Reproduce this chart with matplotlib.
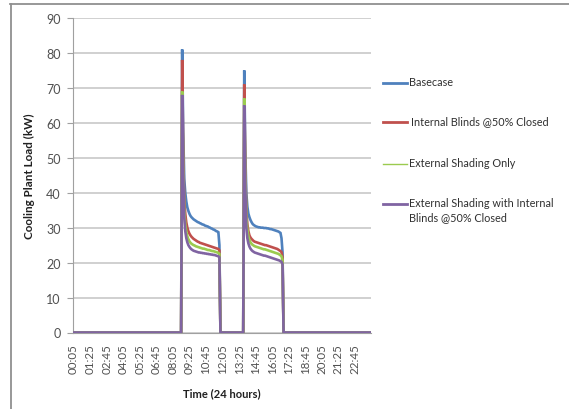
import numpy as np
import matplotlib
matplotlib.use("Agg")
import matplotlib.pyplot as plt
from matplotlib.lines import Line2D

plt.rcParams['font.family'] = ['Lato', 'DejaVu Sans']

# 5-minute intervals over 24 hours (00:05 ... 24:00)
n_steps = 288
tick_labels = ["00:05", "01:25", "02:45", "04:05", "05:25", "06:45", "08:05",
               "09:25", "10:45", "12:05", "13:25", "14:45", "16:05", "17:25",
               "18:45", "20:05", "21:25", "22:45"]

# Morning occupied block starts at step 105 (08:50), afternoon block at step 165 (13:50)
am_start = 105
pm_start = 165

basecase_am = [81, 58, 44, 40, 37.5, 35.8, 34.8, 34.0, 33.4, 33.0, 32.7, 32.4, 32.2,
               32.0, 31.8, 31.6, 31.5, 31.3, 31.2, 31.0, 30.9, 30.8, 30.6, 30.5, 30.4,
               30.3, 30.1, 30.0, 29.8, 29.7, 29.5, 29.4, 29.2, 29.0, 28.9, 28.7, 25.0]
blinds_am = [78, 52, 38, 34, 31.5, 30.0, 29.0, 28.3, 27.8, 27.4, 27.1, 26.8, 26.6,
             26.4, 26.2, 26.0, 25.9, 25.7, 25.6, 25.5, 25.4, 25.3, 25.2, 25.1, 25.0,
             24.9, 24.8, 24.7, 24.6, 24.5, 24.4, 24.3, 24.2, 24.1, 24.0, 23.9, 23.5]
shading_am = [69, 48, 35, 31, 28.8, 27.5, 26.7, 26.1, 25.7, 25.4, 25.2, 25.0, 24.9,
              24.7, 24.6, 24.5, 24.4, 24.3, 24.2, 24.1, 24.0, 24.0, 23.9, 23.8, 23.7,
              23.6, 23.6, 23.5, 23.4, 23.3, 23.3, 23.2, 23.1, 23.0, 22.9, 22.8, 22.5]
combined_am = [68, 46, 33, 29, 27, 25.8, 25.0, 24.5, 24.1, 23.8, 23.6, 23.4, 23.3,
               23.2, 23.1, 23.0, 22.9, 22.9, 22.8, 22.8, 22.7, 22.7, 22.6, 22.6, 22.5,
               22.5, 22.4, 22.4, 22.3, 22.3, 22.2, 22.2, 22.1, 22.0, 21.9, 21.8, 21.5]

basecase_pm = [75, 52, 40, 36, 34, 33, 32.2, 31.6, 31.1, 30.8, 30.6, 30.4, 30.3,
               30.2, 30.1, 30.1, 30.0, 30.0, 30.0, 29.9, 29.9, 29.9, 29.8, 29.8, 29.7,
               29.6, 29.6, 29.5, 29.4, 29.3, 29.2, 29.1, 29.0, 28.9, 28.7, 28.5, 27.0, 23.0]
blinds_pm = [71, 48, 35, 31, 29, 27.8, 27.2, 26.8, 26.5, 26.2, 26.0, 25.9, 25.8,
             25.7, 25.6, 25.5, 25.4, 25.3, 25.2, 25.1, 25.0, 25.0, 24.9, 24.8, 24.7,
             24.6, 24.5, 24.4, 24.3, 24.2, 24.1, 24.0, 23.9, 23.7, 23.5, 23.3, 23.0, 21.5]
shading_pm = [67, 45, 33, 29.5, 27.5, 26.4, 25.8, 25.4, 25.1, 24.9, 24.7, 24.6, 24.5,
              24.4, 24.3, 24.2, 24.1, 24.0, 23.9, 23.8, 23.8, 23.7, 23.6, 23.5, 23.4,
              23.3, 23.2, 23.1, 23.0, 22.9, 22.8, 22.7, 22.6, 22.5, 22.3, 22.1, 21.8, 20.8]
combined_pm = [65, 42, 30, 27, 25.5, 24.6, 24.0, 23.6, 23.3, 23.1, 22.9, 22.8, 22.7,
               22.6, 22.5, 22.4, 22.3, 22.2, 22.1, 22.0, 22.0, 21.9, 21.8, 21.7, 21.6,
               21.5, 21.4, 21.3, 21.2, 21.1, 21.0, 20.9, 20.8, 20.7, 20.6, 20.4, 20.2, 19.5]

series_names = ["Basecase", "Internal Blinds @50% Closed", "External Shading Only",
                "External Shading with Internal\nBlinds @50% Closed"]
series_colors = ["#4F81BD", "#C0504D", "#9BCB4F", "#8064A2"]


def day_profile(am, pm):
    load = np.zeros(n_steps)
    load[am_start:am_start + len(am)] = am
    load[pm_start:pm_start + len(pm)] = pm
    return load


profiles = [day_profile(basecase_am, basecase_pm),
            day_profile(blinds_am, blinds_pm),
            day_profile(shading_am, shading_pm),
            day_profile(combined_am, combined_pm)]

W, H = 569, 410
fig = plt.figure(figsize=(W / 100, H / 100), dpi=100)
ax = fig.add_axes([73 / W, 1 - 333.5 / H, (371 - 73) / W, (333.5 - 19) / H])

x = np.arange(n_steps)
for load, color in zip(profiles, series_colors):
    ax.plot(x, load, color=color, lw=1.9, solid_joinstyle='miter', zorder=3)

ax.set_xlim(-0.5, n_steps - 0.5)
ax.set_ylim(0, 90)
ax.set_yticks(np.arange(0, 91, 10))
ax.yaxis.grid(True, color='#C8C8C8', lw=1.2)
ax.set_axisbelow(True)

ax.set_xticks(np.arange(0, n_steps, 16))
ax.set_xticklabels(tick_labels, rotation=90, fontsize=8.3, color='#505050')
ax.tick_params(axis='x', length=0, pad=8)
ax.tick_params(axis='y', length=4, color='#A0A0A0', labelsize=9, labelcolor='#505050', pad=5)

for side in ['top', 'right']:
    ax.spines[side].set_visible(False)
ax.spines['left'].set_color('#A0A0A0')
ax.spines['bottom'].set_color('#A0A0A0')

ax.set_xlabel("Time (24 hours)", fontsize=8, fontweight='bold', color='#202020', labelpad=10)
ax.set_ylabel("Cooling Plant Load (kW)", fontsize=8.4, fontweight='bold', color='#202020', labelpad=8)

# Legend entries: sample line plus label, one row per series
legend_rows = [84, 123, 165, 205]
legend_text_x = [409, 411, 409, 409]
for name, color, row, tx in zip(series_names, series_colors, legend_rows, legend_text_x):
    yf = 1 - row / H
    lw = 1.0 if color == "#9BCB4F" else 2.0
    fig.add_artist(Line2D([383 / W, 407 / W], [yf, yf], color=color, lw=lw))
    fig.text(tx / W, 1 - (row - 6.5) / H, name, fontsize=7.8, color='#303030',
             va='top', ha='left', linespacing=1.25)

# Chart frame edges
fig.add_artist(Line2D([10 / W, 1], [1 - 4.5 / H, 1 - 4.5 / H], color='#909090', lw=1.3))
fig.add_artist(Line2D([10.5 / W, 10.5 / W], [0, 1 - 4.5 / H], color='#909090', lw=1.3))

fig.savefig("out.png", dpi=100)
